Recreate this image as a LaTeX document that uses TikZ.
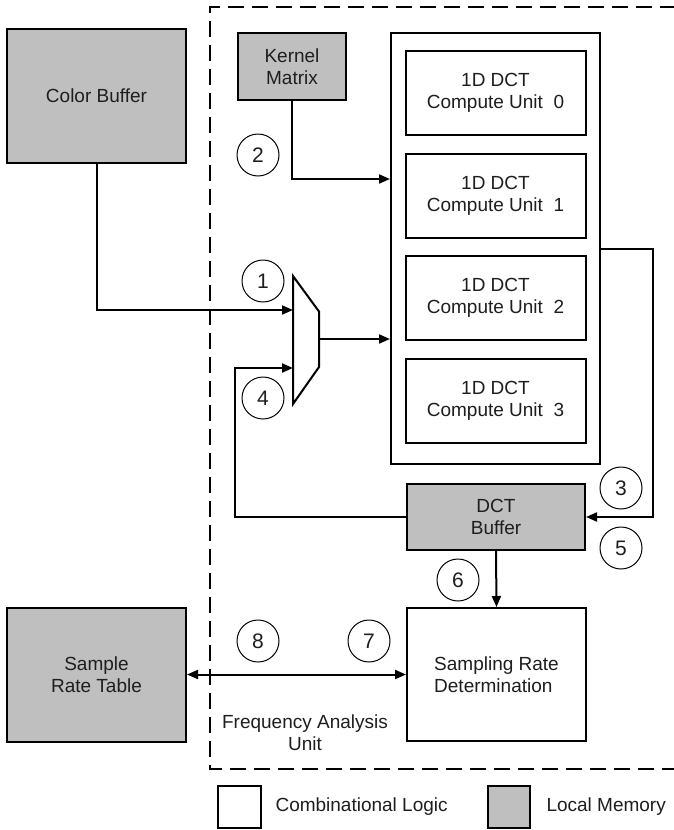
\documentclass[tikz,border=0pt]{standalone}
\usepackage{fontspec}
\setmainfont{Liberation Sans}
\usetikzlibrary{arrows.meta}
\definecolor{memgray}{RGB}{191,191,191}
\definecolor{txt}{RGB}{30,30,30}
\tikzset{
  blk/.style={draw=black, line width=2pt, inner sep=0pt, align=center, text=txt,
    font=\fontsize{19}{22}\selectfont},
  mem/.style={blk, fill=memgray},
  logic/.style={blk, fill=white},
  num/.style={draw=black, line width=1pt, circle, minimum size=42pt, inner sep=0pt,
    font=\fontsize{21}{24}\selectfont, text=txt},
  wire/.style={line width=2pt, draw=black},
  arr/.style={wire, -{Triangle[length=11pt,width=9pt]}},
  darr/.style={wire, {Triangle[length=11pt,width=9pt]}-{Triangle[length=11pt,width=9pt]}},
  lbl/.style={align=center, text=txt, font=\fontsize{19}{22}\selectfont}
}
\begin{document}
\begin{tikzpicture}[x=1pt,y=-1pt]
\useasboundingbox (0,0) rectangle (673,830);
% dashed unit boundary
\draw[line width=2pt, dash pattern=on 16pt off 8pt] (700,7) -- (210,7) -- (210,769) -- (700,769);

% blocks
\node[mem, minimum width=179pt, minimum height=134pt] (colorbuf) at (96.5,96) {Color Buffer};
\node[mem, minimum width=108pt, minimum height=67pt] (kernel) at (292,66.5) {Kernel\\Matrix};
\node[logic, minimum width=209pt, minimum height=431pt] (outer) at (495.5,248.5) {};
\node[logic, minimum width=180pt, minimum height=84pt] (cu0) at (495.5,93) {1D DCT\\Compute Unit\ \ 0};
\node[logic, minimum width=180pt, minimum height=84pt] (cu1) at (495.5,195.5) {1D DCT\\Compute Unit\ \ 1};
\node[logic, minimum width=180pt, minimum height=84pt] (cu2) at (495.5,298) {1D DCT\\Compute Unit\ \ 2};
\node[logic, minimum width=180pt, minimum height=84pt] (cu3) at (495.5,401) {1D DCT\\Compute Unit\ \ 3};
\node[mem, minimum width=178pt, minimum height=66pt] (dctbuf) at (496,517) {DCT\\Buffer};
\node[logic, minimum width=179pt, minimum height=133pt, align=left] (srd) at (496.5,674.5) {Sampling Rate\\Determination};
\node[mem, minimum width=179pt, minimum height=134pt] (srt) at (96.5,674.5) {Sample\\Rate Table};

% mux
\coordinate (m1) at (293,276);
\coordinate (m2) at (319,311.5);
\coordinate (m3) at (319,367);
\coordinate (m4) at (293,404);
\coordinate (muxin1) at (293,310);
\coordinate (muxin2) at (293,368);
\coordinate (muxout) at (319,339);
\draw[wire, line join=miter, fill=white] (m1) -- (m2) -- (m3) -- (m4) -- cycle;

% helper coordinates
\coordinate (cbturn) at (colorbuf.south |- muxin1);
\coordinate (kturn) at (kernel.south |- 0,179);
\coordinate (kin) at (outer.west |- 0,179);
\coordinate (mout) at (outer.west |- muxout);
\coordinate (oout) at (outer.east |- 0,249);
\coordinate (rturn1) at (653,249);
\coordinate (rturn2) at (653,517);
\coordinate (lturn1) at (235,517);
\coordinate (lturn2) at (235,368);

% connectors
\draw[arr] (colorbuf.south) -- (cbturn) -- (muxin1);
\draw[arr] (kernel.south) -- (kturn) -- (kin);
\draw[arr] (muxout) -- (mout);
\draw[arr] (oout) -- (rturn1) -- (rturn2) -- (dctbuf.east);
\draw[arr] (dctbuf.west) -- (lturn1) -- (lturn2) -- (muxin2);
\draw[arr] (dctbuf.south) -- (srd.north);
\draw[darr] (srt.east) -- (srd.west);

% step numbers
\node[num] (n1) at (263,281) {1};
\node[num] (n2) at (258,155) {2};
\node[num] (n3) at (621,488) {3};
\node[num] (n4) at (263,398) {4};
\node[num] (n5) at (621,548) {5};
\node[num] (n6) at (458,580) {6};
\node[num] (n7) at (369,641) {7};
\node[num] (n8) at (258,641) {8};

% unit label
\node[lbl] (fau) at (305,733) {Frequency Analysis\\Unit};

% legend
\node[logic, minimum width=43pt, minimum height=42pt] (leg1) at (239.5,807) {};
\node[lbl, anchor=west] (leg1t) at (272,807) {Combinational Logic};
\node[mem, minimum width=42pt, minimum height=42pt] (leg2) at (509,807) {};
\node[lbl, anchor=west] (leg2t) at (543,807) {Local Memory};
\end{tikzpicture}
\end{document}
